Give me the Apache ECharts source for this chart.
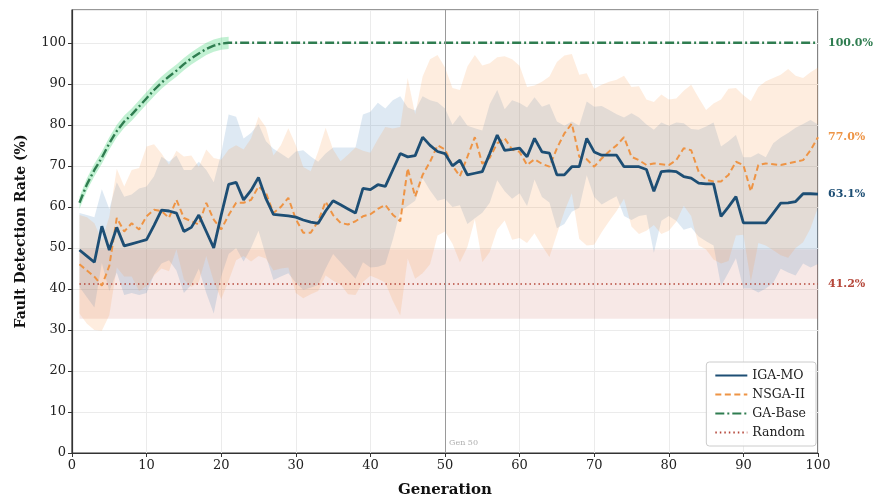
<!DOCTYPE html>
<html>
<head>
<meta charset="utf-8">
<script src="https://cdn.jsdelivr.net/npm/echarts@6/dist/echarts.min.js"></script>
<style>
  html, body { margin: 0; padding: 0; background: #fff; }
  #chart { width: 880px; height: 503px; }
</style>
</head>
<body>
<div id="chart"></div>
<script>
// generations 1..100
var gens = [];
for (var i = 1; i <= 100; i++) gens.push(i);

// IGA-MO mean and spread
var igaMean = [49.5, 48, 46.5, 55.3, 49.5, 55, 50.5, 51, 51.5, 52,
    55.5, 59.2, 59, 58.5, 54, 55, 58, 54, 50, 58,
    65.5, 66, 61.7, 64, 67.2, 62, 58.2, 58, 57.8, 57.5,
    56.8, 56.3, 56, 59, 61.5, 60.5, 59.5, 58.5, 64.5, 64.2,
    65.4, 65, 69, 73, 72.2, 72.5, 77, 75, 73.5, 73,
    70, 71.4, 67.8, 68.2, 68.6, 73, 77.5, 73.8, 74, 74.3,
    72.2, 76.7, 73.4, 73.1, 67.8, 67.8, 69.8, 69.8, 76.7, 73.4,
    72.6, 72.6, 72.6, 69.8, 69.8, 69.8, 69.1, 63.8, 68.6, 68.8,
    68.6, 67.4, 67, 65.8, 65.6, 65.6, 57.7, 60, 62.5, 56.1,
    56.1, 56.1, 56.1, 58.5, 60.9, 61, 61.3, 63.2, 63.2, 63.1];
var igaStd = [9, 10, 11, 9, 10, 11, 12, 12, 13, 13,
    12, 13, 12, 14, 15, 14, 13, 15, 16, 15,
    17, 16, 15, 14, 13, 14, 16, 15, 14, 16,
    17, 16, 15, 14, 13, 14, 15, 16, 18, 19,
    20, 19, 17, 14, 12, 11, 10, 11, 12, 11,
    10, 11, 12, 11, 10, 12, 11, 10, 12, 11,
    12, 10, 11, 12, 13, 12, 11, 10, 9, 11,
    12, 11, 10, 12, 13, 12, 11, 15, 12, 11,
    12, 13, 12, 13, 14, 15, 17, 16, 15, 16,
    16, 17, 16, 17, 16, 17, 18, 17, 18, 17];

// NSGA-II mean and spread
var nsgaMean = [46, 44.5, 43, 40.8, 45.6, 57.3, 54, 56, 54.5, 57.7,
    59.3, 59, 57.3, 61.7, 57.3, 56.5, 55.7, 61, 56.9, 54.5,
    58, 61, 61, 61.7, 65, 63.4, 58.5, 60, 62.2, 57,
    53.7, 53.7, 56.5, 61.3, 58, 56.1, 55.7, 56.5, 57.7, 58.2,
    59.5, 60.5, 58.1, 56.5, 69.4, 62.5, 67.8, 71, 75, 74,
    70, 67.5, 72.2, 77, 70.5, 72, 75.5, 76.7, 74, 73.4,
    70.2, 71.6, 70.5, 69.8, 74.3, 77.9, 80.3, 72.2, 71.6, 69.8,
    71.8, 73.5, 75, 77, 72.2, 71.4, 70.2, 70.6, 70.4, 70.2,
    71.4, 74.3, 73.8, 68.6, 66.6, 66.2, 66.2, 67.8, 71, 70.2,
    63.8, 70.2, 70.6, 70.4, 70.2, 70.6, 71, 71.4, 73.8, 77];
var nsgaStd = [12, 13, 13, 11, 12, 12, 11, 13, 15, 17,
    16, 14, 13, 12, 15, 16, 14, 13, 15, 17,
    16, 14, 13, 15, 17, 16, 14, 15, 17, 18,
    16, 15, 17, 18, 16, 15, 17, 18, 16, 15,
    17, 19, 21, 23, 22, 20, 24, 25, 22, 20,
    19, 21, 22, 20, 24, 23, 21, 20, 22, 21,
    19, 18, 20, 22, 21, 19, 17, 20, 21, 19,
    18, 17, 16, 15, 17, 18, 16, 15, 17, 16,
    15, 14, 16, 18, 17, 19, 20, 21, 18, 17,
    22, 19, 20, 21, 22, 23, 21, 20, 19, 17];

// GA-Base: rises to 100 by gen 21, then flat
var gaGen = [1, 2, 3, 4, 5, 6, 7, 8, 9, 10, 11, 12, 13, 14, 15, 16, 17, 18, 19, 20, 21, 100];
var gaVal = [61, 65.5, 69, 72, 75.5, 78.5, 80.8, 82.5, 84.5, 86.5, 88.5, 90.3, 91.8, 93.2,
    94.8, 96.2, 97.4, 98.5, 99.3, 99.8, 100, 100];
var gaGlow = 1.5;

// Random baseline
var randomMean = 41.2;
var randomLo = 32.7;
var randomHi = 49.7;

var markGen = 50;
var yTicks = [0, 10, 20, 30, 40, 50, 60, 70, 80, 90, 100];

var C = {
    iga: '#1d4e74',
    nsga: '#ee9445',
    ga: '#2f7d50',
    rnd: '#b5473a'
};
var FONT = 'DejaVu Serif';

function pairs(xs, ys) {
    return xs.map(function (x, k) { return [x, ys[k]]; });
}

// shaded band between lo and hi, drawn as one polygon through the axes
function band(name, xs, lo, hi, color) {
    var rows = xs.map(function (x, k) { return [x, lo[k], hi[k]]; });
    return {
        name: name, type: 'custom', silent: true, z: 1,
        data: rows,
        encode: { x: 0, y: [1, 2] },
        renderItem: function (params, api) {
            if (params.dataIndex !== 0) return null;
            var pts = [];
            rows.forEach(function (r) { pts.push(api.coord([r[0], r[2]])); });
            for (var k = rows.length - 1; k >= 0; k--) pts.push(api.coord([rows[k][0], rows[k][1]]));
            return {
                type: 'polygon',
                shape: { points: pts },
                style: { fill: color },
                clipPath: { type: 'rect', shape: params.coordSys }
            };
        }
    };
}

function endLbl(color) {
    return {
        show: true, color: color, fontFamily: FONT, fontWeight: 'bold', fontSize: 11,
        distance: 10,
        formatter: function (p) { return p.value[1].toFixed(1) + '%'; }
    };
}

var randVals = gens.map(function () { return randomMean; });
var igaLo = igaMean.map(function (v, k) { return v - igaStd[k]; });
var igaHi = igaMean.map(function (v, k) { return v + igaStd[k]; });
var nsgaLo = nsgaMean.map(function (v, k) { return v - nsgaStd[k]; });
var nsgaHi = nsgaMean.map(function (v, k) { return v + nsgaStd[k]; });
var gaHead = gaVal.slice(0, 21);
var gaLo = gaHead.map(function (v) { return v - gaGlow; });
var gaHi = gaHead.map(function (v) { return v + gaGlow; });

var series = [
    band('igaBand', gens, igaLo, igaHi, 'rgba(60,125,185,0.17)'),
    band('nsgaBand', gens, nsgaLo, nsgaHi, 'rgba(248,155,75,0.18)'),
    band('gaBand', gaGen.slice(0, 21), gaLo, gaHi, 'rgba(80,215,130,0.35)'),
    {
        name: 'Random', type: 'line', data: pairs(gens, randVals), symbol: 'none', z: 3,
        lineStyle: { color: C.rnd, width: 1.6, type: [1.5, 3] },
        itemStyle: { color: C.rnd },
        endLabel: endLbl(C.rnd),
        markArea: {
            silent: true,
            itemStyle: { color: 'rgba(190,80,65,0.13)' },
            data: [[{ coord: [gens[0], randomLo] }, { coord: [gens[gens.length - 1], randomHi] }]]
        }
    },
    {
        name: 'GA-Base', type: 'line', data: pairs(gaGen, gaVal), symbol: 'none', z: 4,
        lineStyle: { color: C.ga, width: 2.4, type: [9, 3, 2, 3] },
        itemStyle: { color: C.ga },
        endLabel: endLbl(C.ga)
    },
    {
        name: 'NSGA-II', type: 'line', data: pairs(gens, nsgaMean), symbol: 'none', z: 5,
        lineStyle: { color: C.nsga, width: 2, type: [6, 3.5] },
        itemStyle: { color: C.nsga },
        endLabel: endLbl(C.nsga)
    },
    {
        name: 'IGA-MO', type: 'line', data: pairs(gens, igaMean), symbol: 'none', z: 6,
        lineStyle: { color: C.iga, width: 2.8 },
        itemStyle: { color: C.iga },
        endLabel: endLbl(C.iga),
        markLine: {
            silent: true, symbol: 'none',
            lineStyle: { color: '#9a9a9a', width: 1, type: 'solid' },
            label: { show: false },
            data: [{ xAxis: markGen }]
        }
    },
    {
        // "Gen 50" note near the bottom
        name: 'gen-note', type: 'scatter', data: [[markGen, 2.5]], symbolSize: 0, silent: true, z: 6,
        label: {
            show: true, position: 'right', distance: 4, color: '#999', fontSize: 8, fontFamily: FONT,
            formatter: 'Gen ' + markGen
        }
    }
];

var option = {
    backgroundColor: '#fff',
    animation: false,
    textStyle: { fontFamily: FONT },
    grid: {
        left: 72, right: 62, top: 10, bottom: 48,
        show: true, borderColor: '#333', borderWidth: 1.2
    },
    legend: {
        data: ['IGA-MO', 'NSGA-II', 'GA-Base', 'Random'],
        orient: 'vertical', right: 64, bottom: 57,
        backgroundColor: 'rgba(255,255,255,0.9)', borderColor: '#ccc', borderWidth: 1, borderRadius: 3,
        padding: [7, 10, 7, 8], itemGap: 6, itemWidth: 32, itemHeight: 10,
        itemStyle: { opacity: 0 },
        textStyle: { fontFamily: FONT, fontSize: 12.5, color: '#222' }
    },
    xAxis: {
        type: 'value', min: 0, max: 100, interval: 10,
        name: 'Generation', nameLocation: 'middle', nameGap: 30,
        nameTextStyle: { fontFamily: FONT, fontWeight: 'bold', fontSize: 15, color: '#111' },
        axisLine: { show: true, lineStyle: { color: '#333', width: 1.2 } },
        axisTick: { show: true, length: 4, lineStyle: { color: '#333' } },
        axisLabel: { fontFamily: FONT, fontSize: 13, color: '#222', margin: 6 },
        splitLine: { show: true, lineStyle: { color: '#ebebeb', width: 1 } }
    },
    yAxis: {
        type: 'value', min: 0, max: 108, interval: 10,
        name: 'Fault Detection Rate (%)', nameLocation: 'middle', nameGap: 44,
        nameTextStyle: { fontFamily: FONT, fontWeight: 'bold', fontSize: 14, color: '#111' },
        axisLine: { show: true, lineStyle: { color: '#333', width: 1.2 } },
        axisTick: { show: true, length: 4, lineStyle: { color: '#333' } },
        axisLabel: {
            fontFamily: FONT, fontSize: 13, color: '#222', margin: 6, showMaxLabel: false,
            formatter: function (v) { return yTicks.indexOf(v) >= 0 ? String(v) : ''; }
        },
        splitLine: { show: true, lineStyle: { color: '#ebebeb', width: 1 } }
    },
    series: series
};

var myChart = echarts.init(document.getElementById('chart'));
myChart.setOption(option);
</script>
</body>
</html>
